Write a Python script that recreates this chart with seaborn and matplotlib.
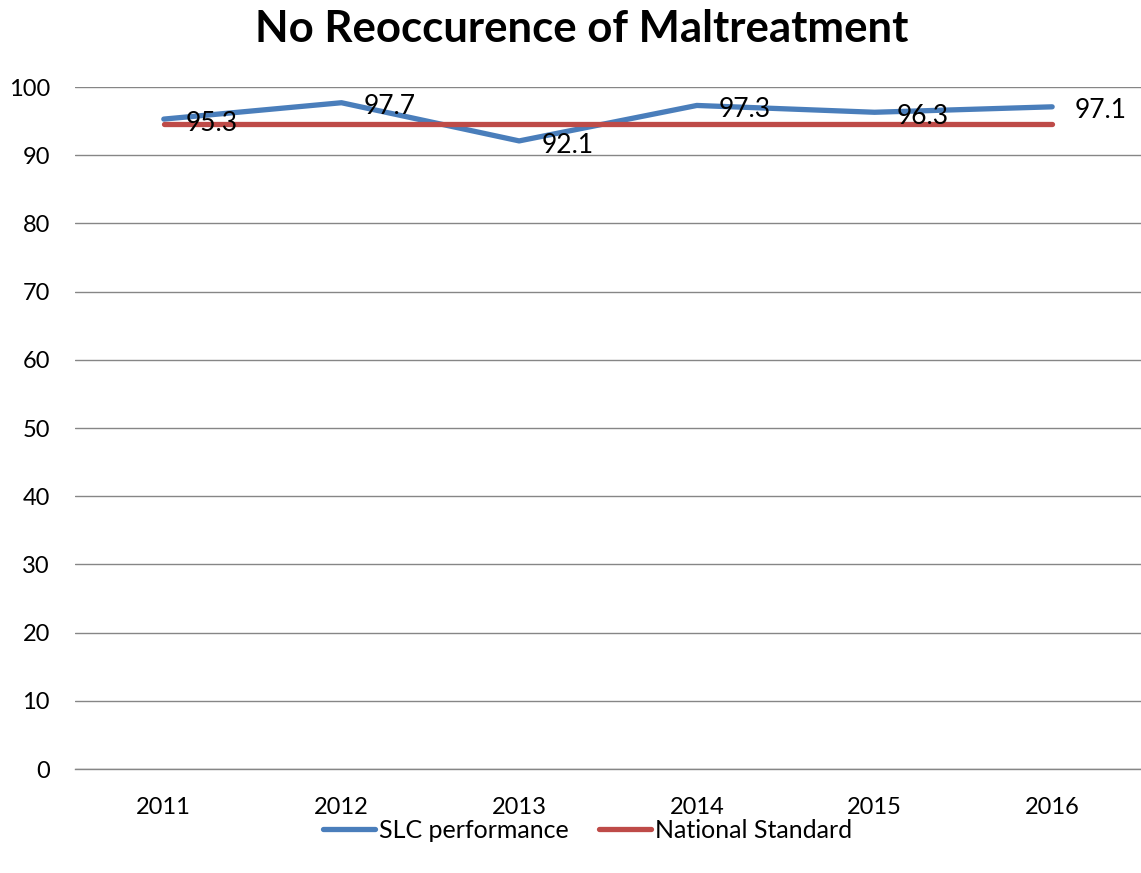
import pandas as pd
import matplotlib
matplotlib.use('Agg')
import matplotlib.pyplot as plt
import seaborn as sns

# chart values
years = ["2011", "2012", "2013", "2014", "2015", "2016"]
slc_performance = [95.3, 97.7, 92.1, 97.3, 96.3, 97.1]
national_standard = [94.6, 94.6, 94.6, 94.6, 94.6, 94.6]
y_ticks = [0, 10, 20, 30, 40, 50, 60, 70, 80, 90, 100]

series_names = ["SLC performance", "National Standard"]
colors = ["#4A7EBB", "#BE4B48"]

df = pd.DataFrame({
    "year": years * 2,
    "value": slc_performance + national_standard,
    "series": [series_names[0]] * len(years) + [series_names[1]] * len(years),
})

sns.set_style("white")
plt.rcParams['font.family'] = ['Lato', 'DejaVu Sans']
plt.rcParams['text.color'] = "black"

fig = plt.figure(figsize=(11.41, 8.73), dpi=100)
ax = fig.add_axes([0.0657, 0.1191, 0.9343, 0.7812])

sns.lineplot(data=df, x="year", y="value", hue="series", hue_order=series_names,
             palette=colors, linewidth=3.8, sort=False, ax=ax, legend=False,
             solid_capstyle="round")

ax.set_ylim(0, 100)
ax.set_xlim(-0.5, len(years) - 0.5)
ax.set_yticks(y_ticks)
ax.yaxis.grid(True, color="#868686", linewidth=1.0)
ax.set_axisbelow(True)
for s in ["left", "right", "top"]:
    ax.spines[s].set_visible(False)
ax.spines["bottom"].set_color("#868686")
ax.spines["bottom"].set_linewidth(1.0)
ax.tick_params(axis="both", length=0, labelsize=17, colors="black")
ax.tick_params(axis="x", pad=20)
ax.tick_params(axis="y", pad=18)
ax.set_xlabel("")
ax.set_ylabel("")

# data labels to the right of each point
for i, v in enumerate(slc_performance):
    ax.annotate(f"{v:.1f}", (i, v), xytext=(16, -3), textcoords="offset points",
                ha="left", va="center", fontsize=19, color="black")

fig.suptitle("No Reoccurence of Maltreatment", fontsize=31.5, fontweight="bold",
             x=0.51, y=0.99, color="black")

handles = [plt.Line2D([0], [0], color=c, linewidth=3.8, solid_capstyle="round") for c in colors]
fig.legend(handles, series_names, loc="center", bbox_to_anchor=(0.515, 0.049), ncol=2,
           frameon=False, fontsize=18, handlelength=2.1, handletextpad=0.15, columnspacing=1.2)

fig.savefig("out.png", dpi=100)
